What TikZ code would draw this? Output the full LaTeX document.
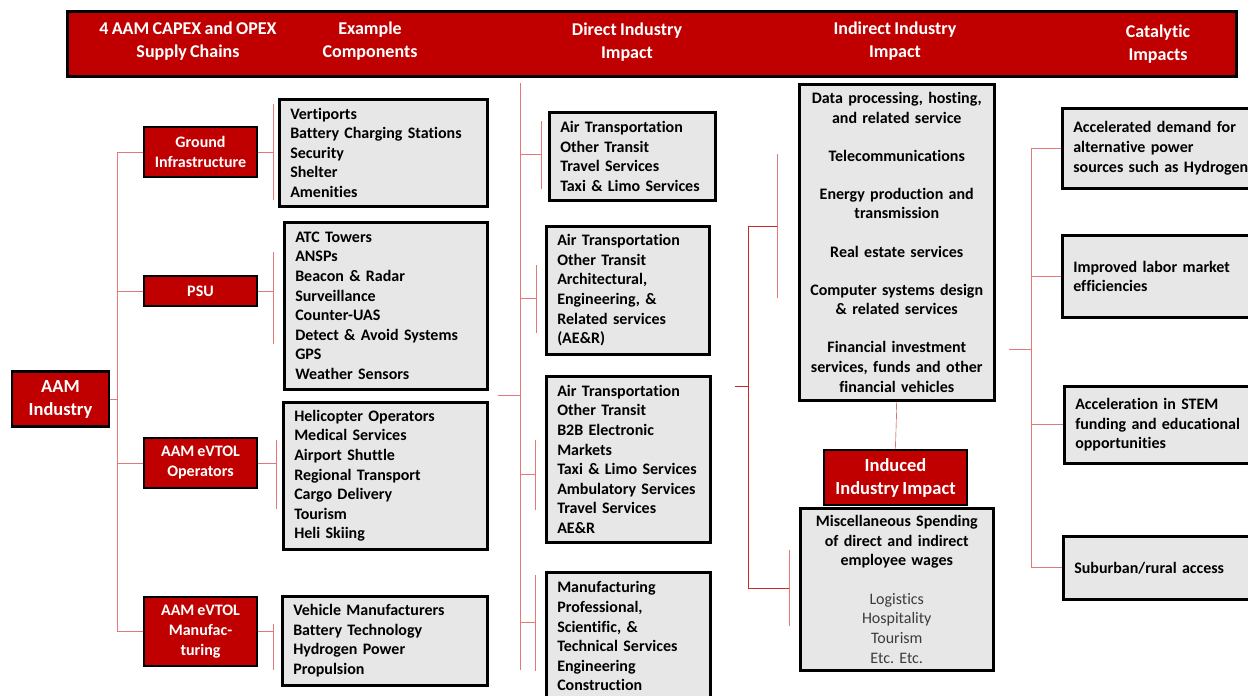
\documentclass[tikz,border=0pt]{standalone}
\usepackage{fontspec}
\setmainfont{Carlito}[Ligatures=NoCommon,WordSpace=0.8]
\usetikzlibrary{positioning,calc}
\definecolor{aamred}{RGB}{192,0,0}
\definecolor{boxgrey}{RGB}{231,231,231}
\definecolor{linkred}{RGB}{228,120,120}
\definecolor{linkdark}{RGB}{200,40,40}
\definecolor{softtext}{RGB}{60,60,60}
\tikzstyle{link} = [linkred, line width=1pt]
\frenchspacing

\begin{document}
\begin{tikzpicture}[x=1pt,y=-1pt]
\tikzset{
redbox/.style={draw=black,line width=2.5pt,fill=aamred,text=white,align=center,inner sep=0pt,
  font=\bfseries\fontsize{16}{20}\selectfont},
listbox/.style 2 args={draw=black,line width=2.5pt,fill=boxgrey,anchor=north west,align=left,
  inner xsep=11pt,inner ysep=0pt,text width=#1,minimum height=#2,font=\bfseries\fontsize{16}{19.6}\selectfont},
midbox/.style 2 args={listbox={#1}{#2},align=center},
headtext/.style={text=white,align=center,font=\bfseries\fontsize{18}{23}\selectfont}
}
\useasboundingbox (0,0) rectangle (1248,696);

\node[draw=black,line width=3pt,fill=aamred,anchor=north west,minimum width=1169pt,minimum height=65pt] (head) at (66,10) {};
\foreach \n/\x/\y/\t in {hcap/188/41/{4 AAM CAPEX and OPEX\\Supply Chains},
  hcomp/370/41/{Example\\Components}, hdir/627/42/{Direct Industry\\Impact},
  hind/895/41/{Indirect Industry\\Impact}, hcat/1158/44/{Catalytic\\Impacts}}
  \node[headtext] (\n) at (\x,\y) {\t};

\node[redbox,minimum width=97pt,minimum height=55pt,font=\bfseries\fontsize{18.5}{23}\selectfont] (aam) at (60.5,399) {AAM\\Industry};
\node[redbox,minimum width=113pt,minimum height=50pt] (gi) at (200.5,152) {Ground\\Infrastructure};
\node[redbox,minimum width=113pt,minimum height=30pt] (psu) at (200.5,291) {PSU};
\node[redbox,minimum width=113pt,minimum height=50pt] (ops) at (200.5,463) {AAM eVTOL\\Operators};
\node[redbox,minimum width=113pt,minimum height=69pt] (mfg) at (200.5,631.5) {AAM eVTOL\\Manufac-\\turing};

\node[listbox={186pt}{107pt}] (ex1) at (278,98) {Vertiports\\Battery Charging Stations\\Security\\Shelter\\Amenities};
\node[listbox={181pt}{167pt}] (ex2) at (283,221) {ATC Towers\\ANSPs\\Beacon \& Radar\\Surveillance\\Counter-UAS\\Detect \& Avoid Systems\\GPS\\Weather Sensors};
\node[listbox={182pt}{147pt}] (ex3) at (282,401) {Helicopter Operators\\Medical Services\\Airport Shuttle\\Regional Transport\\Cargo Delivery\\Tourism\\Heli Skiing};
\node[listbox={183pt}{89pt}] (ex4) at (281,595) {Vehicle Manufacturers\\Battery Technology\\Hydrogen Power\\Propulsion};

\node[listbox={144pt}{88pt}] (d1) at (548,111) {Air Transportation\\Other Transit\\Travel Services\\Taxi \& Limo Services};
\node[listbox={141pt}{128pt}] (d2) at (545,225) {Air Transportation\\Other Transit\\Architectural,\\Engineering, \&\\Related services\\(AE\&R)};
\node[listbox={142pt}{166pt}] (d3) at (545,375) {Air Transportation\\Other Transit\\B2B Electronic\\Markets\\Taxi \& Limo Services\\Ambulatory Services\\Travel Services\\AE\&R};
\node[listbox={142pt}{128pt}] (d4) at (545,571) {Manufacturing\\Professional,\\Scientific, \&\\Technical Services\\Engineering\\Construction};

\node[midbox={173pt}{316pt}] (ind) at (798,83) {Data processing, hosting,\\and related service\\[18.5pt]Telecommunications\\[18.5pt]Energy production and\\transmission\\[18.5pt]Real estate services\\[18.5pt]Computer systems design\\\& related services\\[18.5pt]Financial investment\\services, funds and other\\financial vehicles};
\node[redbox,minimum width=143pt,minimum height=55pt,font=\bfseries\fontsize{18.5}{23}\selectfont] (induced) at (895.5,477.5) {Induced\\Industry Impact};
\node[midbox={171pt}{162pt}] (misc) at (799,507) {Miscellaneous Spending\\of direct and indirect\\employee wages\\[19pt]\mdseries\color{softtext}Logistics\\Hospitality\\Tourism\\Etc. Etc.};

\node[listbox={178pt}{80pt}] (c1) at (1061,107) {Accelerated demand for\\alternative power\\sources such as Hydrogen};
\node[listbox={178pt}{82pt}] (c2) at (1061,234) {Improved labor market\\efficiencies};
\node[listbox={178pt}{77pt}] (c3) at (1063,385) {Acceleration in STEM\\funding and educational\\opportunities};
\node[listbox={178pt}{63pt}] (c4) at (1062,535) {Suburban/rural access};

\coordinate (tr1) at (117,153);
\draw[link] (aam.east) -- (aam.east -| tr1);
\draw[link] (gi.west) -- (gi.west -| tr1) -- (mfg.west -| tr1) -- (mfg.west);
\foreach \n in {psu,ops}
  \draw[link] (\n.west) -- (\n.west -| tr1);
\foreach \b/\r/\s/\t/\u in {ex1/gi/5/6/8, ex2/psu/10/31/47, ex3/ops/6/39/42, ex4/mfg/8/29/17} {
  \coordinate (\b-t) at ([xshift=-\s pt,yshift=-\t pt]\b.north west);
  \coordinate (\b-u) at ([xshift=-\s pt,yshift=\u pt]\b.south west);
  \draw[link] (\b-t) -- (\b-u);
  \draw[link] (\r.east) -- (\r.east -| \b-t);
}

\coordinate (in2) at (498,395);
\coordinate (tr2) at (520,83);
\draw[link] (tr2) -- (520,670);
\draw[link] (in2) -- (in2 -| tr2);
\foreach \b/\s/\t/\u in {d1/7/10/13, d2/9/40/23, d3/10/65/34, d4/10/4/31} {
  \coordinate (\b-t) at ([xshift=-\s pt,yshift=-\t pt]\b.north west);
  \coordinate (\b-u) at ([xshift=-\s pt,yshift=\u pt]\b.south west);
  \coordinate (\b-m) at ($(\b-t)!0.5!(\b-u)$);
  \draw[link] (\b-t) -- (\b-u);
  \draw[link] (\b-m -| tr2) -- (\b-m);
}

\coordinate (in3) at (735,386);
\coordinate (tr3) at (748,226);
\coordinate (ind-t) at ([xshift=-21pt,yshift=-71pt]ind.north west);
\coordinate (ind-u) at ([xshift=-21pt,yshift=104pt]ind.south west);
\coordinate (misc-t) at ([xshift=-10pt,yshift=-43pt]misc.north west);
\coordinate (misc-u) at ([xshift=-10pt,yshift=46pt]misc.south west);
\coordinate (misc-m) at ($(misc-t)!0.5!(misc-u)$);
\draw[link] (ind-t) -- (ind-u);
\draw[link] (misc-t) -- (misc-u);
\draw[linkdark] (in3) -- (in3 -| tr3);
\draw[linkdark] (ind-t |- tr3) -- (tr3) -- (misc-m -| tr3) -- (misc-m);
\draw[linkdark] (ind.south) -- (induced.north);

\coordinate (in4) at (1009,349);
\coordinate (tr4) at (1031,153);
\draw[link] (in4) -- (in4 -| tr4);
\draw[link] (c1.west) -- (c1.west -| tr4) -- (c4.west -| tr4) -- (c4.west);
\foreach \n in {c2,c3}
  \draw[link] (\n.west) -- (\n.west -| tr4);
\end{tikzpicture}
\end{document}
